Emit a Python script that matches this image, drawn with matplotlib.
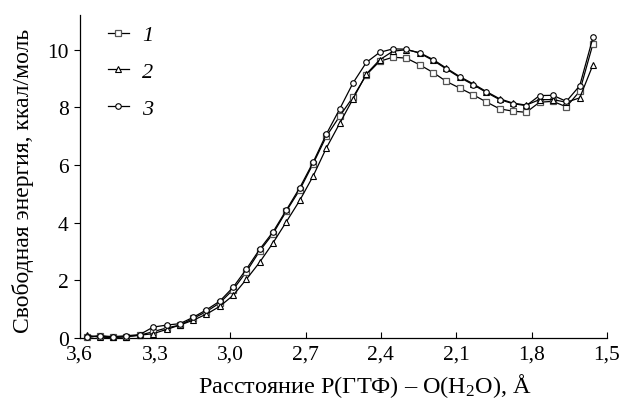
import matplotlib
matplotlib.use("Agg")
import matplotlib.pyplot as plt

plt.rcParams["font.family"] = ["Liberation Serif", "DejaVu Serif"]
plt.rcParams["mathtext.fontset"] = "custom"
plt.rcParams["mathtext.rm"] = "Liberation Serif"
plt.rcParams["mathtext.it"] = "Liberation Serif:italic"

# distance P(GTP) - O(H2O), angstrom
dist = [3.573, 3.520, 3.467, 3.414, 3.361, 3.308, 3.254, 3.201, 3.148, 3.095,
        3.042, 2.989, 2.936, 2.883, 2.830, 2.777, 2.723, 2.670, 2.617, 2.564,
        2.511, 2.458, 2.405, 2.352, 2.299, 2.246, 2.192, 2.139, 2.086, 2.033,
        1.980, 1.927, 1.874, 1.821, 1.768, 1.715, 1.661, 1.608, 1.555]

# free energy, kcal/mol
curve1 = [0.02, 0.08, 0.02, 0.05, 0.10, 0.22, 0.35, 0.45, 0.68, 0.92,
          1.22, 1.68, 2.30, 3.02, 3.62, 4.40, 5.15, 6.05, 7.00, 7.70,
          8.36, 9.13, 9.60, 9.74, 9.71, 9.48, 9.21, 8.90, 8.67, 8.44,
          8.19, 7.95, 7.87, 7.83, 8.18, 8.21, 8.02, 8.56, 10.21]
curve2 = [0.10, 0.03, 0.02, 0.05, 0.10, 0.15, 0.30, 0.45, 0.62, 0.83,
          1.10, 1.48, 2.04, 2.63, 3.30, 4.03, 4.78, 5.62, 6.60, 7.45,
          8.30, 9.16, 9.65, 9.95, 10.00, 9.90, 9.66, 9.36, 9.07, 8.82,
          8.55, 8.30, 8.15, 8.08, 8.27, 8.27, 8.18, 8.33, 9.48]
curve3 = [0.03, 0.08, 0.05, 0.08, 0.12, 0.38, 0.45, 0.50, 0.72, 0.98,
          1.28, 1.76, 2.39, 3.08, 3.68, 4.44, 5.22, 6.10, 7.08, 7.95,
          8.85, 9.56, 9.91, 10.03, 10.02, 9.88, 9.63, 9.33, 9.04, 8.79,
          8.52, 8.27, 8.13, 8.06, 8.41, 8.42, 8.21, 8.75, 10.43]

xticks = [3.6, 3.3, 3.0, 2.7, 2.4, 2.1, 1.8, 1.5]
yticks = [0, 2, 4, 6, 8, 10]

fig = plt.figure(figsize=(6.23, 4.14), dpi=100)
ax = fig.add_axes([0.128, 0.181, 0.846, 0.78])

ax.plot(dist, curve1, color="black", lw=0.9, marker="s", ms=4.2,
        mfc="white", mec="#555555", mew=0.9, label="1", clip_on=False, zorder=3)
ax.plot(dist, curve2, color="black", lw=0.9, marker="^", ms=4.2,
        mfc="white", mec="black", mew=0.8, label="2", clip_on=False, zorder=3)
ax.plot(dist, curve3, color="black", lw=0.9, marker="o", ms=4.0,
        mfc="white", mec="black", mew=0.8, label="3", clip_on=False, zorder=3)

ax.set_xlim(3.6, 1.5)
ax.set_ylim(0, 11.2)
ax.set_xticks(xticks)
ax.set_xticklabels([f"{t:.1f}".replace(".", ",") for t in xticks])
ax.set_yticks(yticks)
ax.set_yticklabels([str(t) for t in yticks])

for s in ["top", "right"]:
    ax.spines[s].set_visible(False)
for s in ["left", "bottom"]:
    ax.spines[s].set_linewidth(0.9)
ax.tick_params(axis="x", direction="in", length=4, width=0.8, labelsize=15.5, pad=5)
ax.tick_params(axis="y", direction="out", length=4, width=0.8, labelsize=15.5, pad=4)

# axis titles placed as figure text
fig.text(0.586, 0.05, "Расстояние P(ГТФ) – O(H$_2$O), Å", fontsize=17.5,
         ha="center", va="baseline")
fig.text(0.037, 0.563, "Свободная энергия, ккал/моль", fontsize=17,
         rotation=90, ha="center", va="center")

ax.legend(loc="upper left", bbox_to_anchor=(0.053, 0.97), frameon=False,
          borderpad=0, borderaxespad=0,
          handlelength=0.95, labelspacing=0.72, handletextpad=0.6,
          prop={"family": "Liberation Serif", "style": "italic", "size": 16})

fig.savefig("out.png", dpi=100, facecolor="white")
